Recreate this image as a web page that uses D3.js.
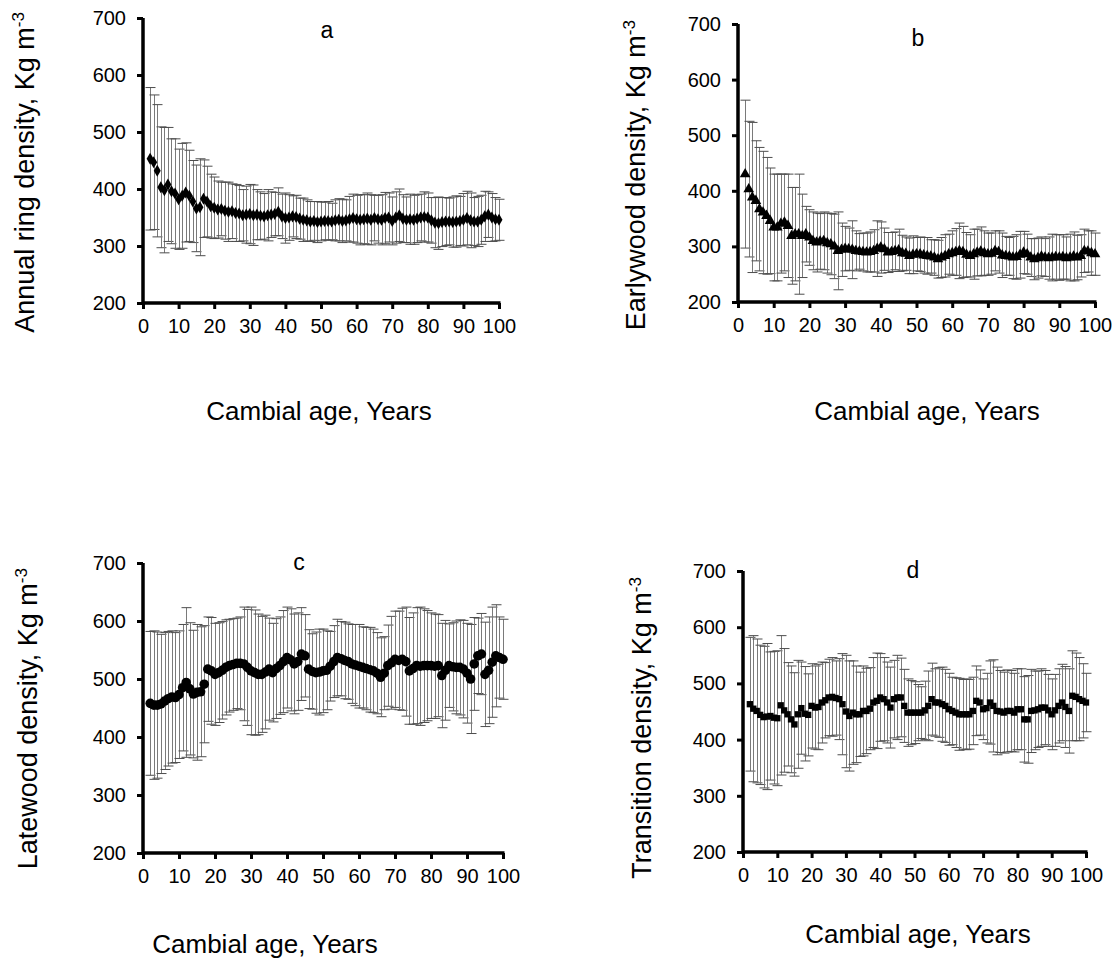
<!DOCTYPE html>
<html><head><meta charset="utf-8">
<script src="https://cdn.jsdelivr.net/npm/d3@7"></script>
<style>
html,body{margin:0;padding:0;background:#fff;}
svg{display:block;font-family:"Liberation Sans",Arial,sans-serif;}
</style></head>
<body>
<svg id="chart" width="1117" height="978"></svg>
<script>
// ---------------- DATA ----------------
const years = d3.range(2, 101);               // cambial age 2..100
const xTicks = [0,10,20,30,40,50,60,70,80,90,100];
const yTicks = [200,300,400,500,600,700];

// a) Annual ring density
const ringMean = [
 453,447,432,403,398,408,396,392,382,388,394,388,378,366,368,383,378,370,367,
 364,365,362,360,361,358,357,354,355,356,
 354,355,353,352,354,355,356,360,352,349,
 350,352,351,348,346,345,343,344,342,343,
 344,344,343,345,346,344,345,347,349,347,
 346,347,348,346,349,347,346,349,350,344,
 350,354,348,346,347,346,348,350,351,350,
 345,341,340,342,343,343,342,343,344,346,
 349,345,343,343,346,352,355,350,347,346];
const ringSd = [
 125,118,116,106,110,100,92,96,88,92,87,80,72,76,85,68,62,56,54,
 50,47,50,52,48,50,49,45,50,52,
 53,44,42,40,45,40,38,42,39,44,
 40,36,38,36,38,36,35,34,36,34,
 33,34,32,36,37,38,36,40,42,42,
 44,43,45,44,40,42,44,45,43,42,
 45,46,42,40,44,43,42,41,44,43,
 40,44,46,43,42,41,44,45,43,46,
 47,48,42,44,43,44,40,42,38,36];

// b) Earlywood density
const earlyMean = [
 430,403,388,382,367,361,355,346,334,334,341,343,337,319,322,322,319,322,316,
 310,307,309,310,306,304,300,292,294,296,
 295,294,292,291,290,289,290,292,296,298,
 295,289,290,292,293,288,287,283,285,286,
 286,284,283,282,280,277,280,283,286,288,
 290,292,290,285,283,286,289,291,288,286,
 287,292,290,284,283,282,280,281,285,289,
 286,280,277,279,282,280,279,280,281,280,
 281,279,280,282,280,283,292,291,288,286];
const earlySd = [
 133,122,135,108,111,110,105,95,96,96,89,87,93,87,84,108,75,50,50,
 52,53,50,52,54,55,58,70,48,40,
 38,52,36,32,34,35,36,38,50,46,
 38,36,35,34,38,32,30,32,34,30,
 31,32,33,30,32,34,36,38,36,40,
 42,50,46,40,38,45,42,44,40,38,
 37,36,38,40,35,34,38,40,42,38,
 36,34,37,36,35,34,38,42,40,41,
 40,38,42,44,40,38,39,37,40,38];

// c) Latewood density
const lateMean = [
 458,455,455,457,462,466,469,468,473,485,494,483,474,477,478,491,517,514,508,
 511,515,520,523,525,527,527,526,520,514,
 511,508,508,512,517,511,518,523,530,537,
 533,526,530,543,540,517,513,511,512,514,
 515,522,530,537,535,532,530,526,524,522,
 520,518,516,514,510,503,510,523,528,534,
 532,534,530,514,518,523,522,523,523,523,
 522,523,506,515,523,521,520,520,517,510,
 500,526,540,543,508,515,529,540,537,534];
const lateSd = [
 124,128,126,120,118,116,114,112,110,109,129,114,110,117,112,101,90,92,88,
 86,84,82,80,79,78,80,98,100,110,
 108,104,100,98,88,85,86,84,88,87,
 88,86,84,80,71,68,65,70,74,72,
 68,60,62,66,64,66,65,68,70,72,
 70,71,73,72,70,68,63,70,80,83,
 85,88,94,92,96,100,102,98,95,91,
 90,88,90,86,72,76,80,82,84,86,
 94,80,65,70,90,92,95,88,70,69];

// d) Transition density
const transMean = [
 463,455,451,444,440,441,442,439,438,461,452,445,436,427,445,456,446,444,460,
 457,458,466,470,475,476,474,472,463,450,
 442,448,445,445,451,451,455,466,469,475,
 472,466,457,472,475,475,460,448,448,448,
 448,448,452,460,472,466,466,463,460,454,
 451,448,445,445,445,445,451,469,466,454,
 456,466,460,451,450,448,451,451,448,454,
 454,436,436,451,452,454,457,457,452,445,
 452,460,466,458,451,478,476,472,469,466];
const transSd = [
 119,130,128,124,126,130,114,118,120,124,110,92,95,92,96,82,84,73,75,
 74,76,72,67,68,70,66,72,90,100,
 98,92,86,75,80,76,73,80,85,78,
 74,72,72,69,75,70,65,60,57,55,
 50,46,52,62,64,60,62,66,65,64,
 60,62,64,62,63,62,60,62,58,54,
 62,74,82,78,73,72,73,72,70,72,
 72,76,78,74,70,68,69,66,64,63,
 64,66,68,72,75,80,78,74,66,52];

const panelLetters = ["a","b","c","d"];
const yTitles = ["Annual ring density, ","Earlywood density, ","Latewood density, ","Transition density, "];
const xTitle = "Cambial age, Years";

// ---------------- LAYOUT ----------------
const panels = [
 {mean:ringMean,  sd:ringSd,  marker:"diamond",  x0:143, x1:499, yTop:18,  yBot:303, letter:[327,38],  yt:[25,12],   xt:[319,420]},
 {mean:earlyMean, sd:earlySd, marker:"triangle", x0:738, x1:1095,yTop:24,  yBot:302, letter:[918,46],  yt:[636,20],  xt:[927,420]},
 {mean:lateMean,  sd:lateSd,  marker:"circle",   x0:143, x1:503, yTop:563, yBot:853, letter:[299,570], yt:[28,568],  xt:[265,953]},
 {mean:transMean, sd:transSd, marker:"square",   x0:743, x1:1086,yTop:571, yBot:852, letter:[913,578], yt:[642,577], xt:[918,943]}
];

const svg = d3.select("#chart");
const symbols = {
  diamond: d3.symbol().type(d3.symbolDiamond).size(42),
  triangle: d3.symbol().type(d3.symbolTriangle).size(50),
  circle: d3.symbol().type(d3.symbolCircle).size(72),
  square: d3.symbol().type(d3.symbolSquare).size(40)
};

panels.forEach((p, i) => {
  const g = svg.append("g");
  const x = d3.scaleLinear().domain([0,100]).range([p.x0, p.x1]);
  const y = d3.scaleLinear().domain([200,700]).range([p.yBot, p.yTop]);
  const data = years.map((yr, k) => ({yr, m:p.mean[k], s:p.sd[k]}));

  // error bars
  const eb = g.append("g").attr("stroke","#7a7a7a").attr("stroke-width",1);
  data.forEach(d => {
    const xx = Math.round(x(d.yr))+0.5;
    eb.append("line").attr("x1",xx).attr("x2",xx).attr("y1",y(d.m+d.s)).attr("y2",y(d.m-d.s));
    eb.append("line").attr("x1",xx-5).attr("x2",xx+5).attr("y1",y(d.m+d.s)).attr("y2",y(d.m+d.s)).attr("stroke","#4d4d4d");
    eb.append("line").attr("x1",xx-5).attr("x2",xx+5).attr("y1",y(d.m-d.s)).attr("y2",y(d.m-d.s)).attr("stroke","#4d4d4d");
  });

  // markers
  g.append("g").selectAll("path").data(data).join("path")
    .attr("d", symbols[p.marker])
    .attr("transform", d => `translate(${x(d.yr)},${y(d.m)})`)
    .attr("fill","#000");

  // axes
  const xAxis = d3.axisBottom(x).tickValues(xTicks).tickSize(6).tickPadding(10).tickSizeOuter(0);
  const yAxis = d3.axisLeft(y).tickValues(yTicks).tickSize(6).tickPadding(11).tickSizeOuter(0);
  const gx = g.append("g").attr("transform",`translate(0,${p.yBot})`).call(xAxis);
  const gy = g.append("g").attr("transform",`translate(${p.x0},0)`).call(yAxis);
  [gx, gy].forEach(ax => {
    ax.select(".domain").attr("stroke","#000").attr("stroke-width",3.5);
    ax.selectAll(".tick line").attr("stroke","#000").attr("stroke-width",3);
    ax.selectAll(".tick text").attr("fill","#000").attr("font-size",20)
      .attr("font-family","'Liberation Sans',Arial,sans-serif");
  });
  gy.select(".domain").attr("d", `M0,${p.yBot+1.5}V${p.yTop}`);
  gx.select(".domain").attr("d", `M${p.x0},0H${p.x1+1.5}`);

  // panel letter
  g.append("text").attr("x",p.letter[0]).attr("y",p.letter[1]).attr("text-anchor","middle")
    .attr("font-size",23).text(panelLetters[i]);

  // y title (top end anchored)
  const yt = g.append("text").attr("transform",`translate(${p.yt[0]},${p.yt[1]}) rotate(-90)`)
    .attr("text-anchor","end").attr("dy","0.35em").attr("font-size",27);
  yt.append("tspan").text(yTitles[i] + "Kg m");
  yt.append("tspan").attr("font-size",17).attr("dy","-0.6em").text("-3");

  // x title
  g.append("text").attr("x",p.xt[0]).attr("y",p.xt[1]).attr("text-anchor","middle")
    .attr("font-size",26).text(xTitle);
});
</script>
</body></html>
